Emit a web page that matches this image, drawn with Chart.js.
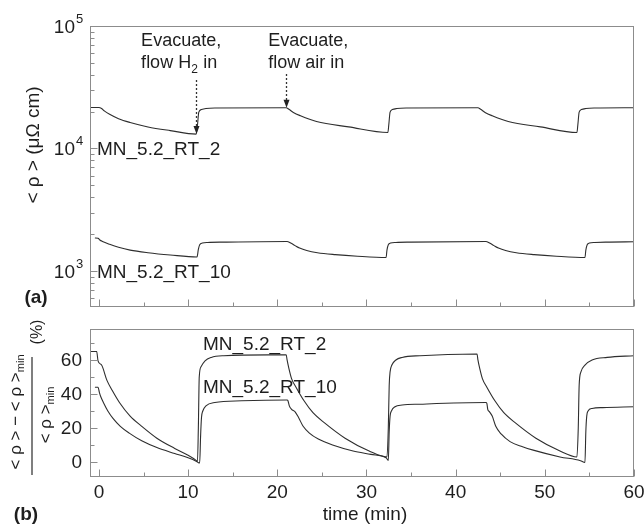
<!DOCTYPE html>
<html>
<head>
<meta charset="utf-8">
<script src="https://cdn.jsdelivr.net/npm/chart.js"></script>
<style>
  html, body { margin: 0; padding: 0; background: #fff; }
  #wrap { position: relative; width: 644px; height: 525px; }
  #wrap canvas { position: absolute; left: 0; top: 0; }
</style>
</head>
<body>
<div id="wrap">
  <canvas id="chartTop" width="644" height="525"></canvas>
  <canvas id="chartBot" width="644" height="525"></canvas>
</div>
<script>
// ─── dados ───
// (a) resistividade media, uS cm, escala log
var topTime2 = [-1.0, 0.0, 0.3, 0.6, 1.2, 2.2, 3.5, 5.5, 8.0, 10.9,
  11.05, 11.2, 11.5, 12.0, 13.0, 21.0,
  21.3, 21.8, 22.6, 24.4, 28.0, 32.4,
  32.5, 32.65, 32.9, 33.4, 34.5, 42.5,
  42.8, 43.3, 44.1, 45.9, 49.5, 53.6,
  53.7, 53.85, 54.1, 54.6, 55.6, 60.0];
var topRho2 = [21600, 21600, 21200, 20300, 19000, 17500, 16300, 15000, 14000, 13100,
  15500, 19800, 20800, 21200, 21400, 21500,
  20900, 19700, 18500, 16600, 15000, 13500,
  15500, 19800, 20800, 21200, 21400, 21500,
  20900, 19700, 18500, 16600, 15000, 13500,
  15500, 19800, 20800, 21200, 21400, 21500];

var topTime10 = [-0.45, -0.1, 0.1, 0.4, 1.2, 2.2, 3.5, 5.5, 8.0, 11.0,
  11.15, 11.3, 11.6, 12.2, 14.0, 21.1,
  21.5, 22.0, 22.5, 23.3, 24.5, 26.5, 29.0, 32.2,
  32.3, 32.45, 32.7, 33.3, 35.0, 43.4,
  43.8, 44.3, 44.8, 45.6, 46.8, 48.8, 51.3, 54.5,
  54.6, 54.75, 55.0, 55.6, 57.3, 60.0];
var topRho10 = [1860, 1850, 1790, 1740, 1650, 1560, 1480, 1410, 1350, 1300,
  1500, 1640, 1690, 1710, 1720, 1740,
  1690, 1610, 1540, 1470, 1410, 1360, 1320, 1290,
  1480, 1640, 1690, 1710, 1720, 1740,
  1690, 1610, 1540, 1470, 1410, 1360, 1320, 1290,
  1480, 1640, 1690, 1710, 1720, 1730];

// (b) variacao relativa, %
var relTime2 = [-1.0, -0.25, -0.1, 0.3, 0.9, 1.5, 2.3, 3.5, 4.8, 6.5,
  8.5, 10.0, 10.9, 11.05, 11.15, 11.25, 11.45, 11.9, 12.6, 14.0,
  19.0, 21.0, 21.1, 21.3, 21.6, 22.1, 23.0, 24.0, 25.3, 27.6,
  30.3, 32.3, 32.45, 32.55, 32.65, 32.85, 33.3, 34.0, 36.0, 42.4,
  42.5, 42.7, 43.0, 43.5, 44.4, 45.4, 46.7, 49.0, 51.7, 53.6,
  53.75, 53.85, 54.05, 54.5, 55.3, 57.0, 60.0];
var relVal2 = [65, 65, 59.5, 57, 48, 42, 35, 27, 21, 14,
  8, 4, 1, 0.3, 20, 50, 56, 59.5, 61.5, 62.5,
  63, 63, 60, 55, 49, 44, 36, 29, 23, 14,
  6.5, 3, 20, 45, 53, 57, 60, 61.5, 62.5, 63.5,
  60, 55, 49, 44, 36, 29, 23, 14, 6.5, 3,
  20, 45, 53, 57, 60, 61.5, 62.5];

var relTime10 = [-0.45, -0.1, 0.05, 0.2, 0.5, 1.0, 1.6, 2.4, 3.4, 4.8,
  6.5, 8.5, 10.0, 10.9, 11.2, 11.3, 11.4, 11.5, 11.65, 12.0,
  13.0, 16.0, 21.1, 21.2, 21.35, 21.6, 22.0, 22.4, 22.9, 23.6,
  24.6, 26.2, 28.5, 30.5, 32.2, 32.45, 32.55, 32.65, 32.8, 33.2,
  34.0, 36.0, 43.4, 43.5, 43.6, 43.8, 44.1, 44.5, 45.1, 46.1,
  47.5, 48.7, 51.7, 54.0, 54.5, 54.6, 54.7, 54.85, 55.3, 56.5,
  60.0];
var relVal10 = [44, 44, 41, 38.5, 35, 30, 25.5, 21, 17, 12.5,
  8.5, 5, 2.5, 0.5, -0.5, -0.5, 15, 26, 30, 33,
  35, 36, 36.5, 36, 33, 31, 29.5, 26, 21, 17,
  13.5, 10, 6.5, 4.5, 2.5, 1, 18, 27, 30, 32.5,
  33.5, 34, 35, 34.5, 31, 29.5, 27, 21, 16.5, 12,
  9, 7, 3, 0.8, -0.3, 18, 27, 30, 31.5, 32,
  32.5];

// ticks
var timeTicks = [0, 10, 20, 30, 40, 50, 60];
var timeMinor = [5, 15, 25, 35, 45, 55];
var logTicks = [1000, 10000, 100000];
var logTickExp = ['3', '4', '5'];
var logMinor = [600, 700, 800, 900, 2000, 3000, 4000, 5000, 6000, 7000, 8000, 9000,
  20000, 30000, 40000, 50000, 60000, 70000, 80000, 90000];
var relTicks = [0, 20, 40, 60];
var relMinor = [10, 30, 50, 70];

// eventos anotados (tempo, valor de rho no ponto)
var eventH2 = { t: 10.9, rho: 13100 };
var eventAir = { t: 21.0, rho: 21500 };

var FONT = '"Liberation Sans", Arial, Helvetica, sans-serif';
var INK = '#1e1e1e';
var AXIS = '#8c8c8c';

function pares(xs, ys) {
  return xs.map(function(x, i) { return { x: x, y: ys[i] }; });
}

function serie(xs, ys) {
  return {
    data: pares(xs, ys),
    borderColor: '#2e2e2e',
    borderWidth: 1.1,
    pointRadius: 0,
    fill: false,
    cubicInterpolationMode: 'monotone'
  };
}

function opcoes(pad, yScale) {
  return {
    responsive: false,
    animation: false,
    devicePixelRatio: 1,
    events: [],
    layout: { padding: pad },
    plugins: { legend: { display: false }, tooltip: { enabled: false } },
    scales: {
      x: { type: 'linear', min: -1.0, max: 60, display: false },
      y: yScale
    }
  };
}

function linha(ctx, x1, y1, x2, y2) {
  ctx.beginPath(); ctx.moveTo(x1, y1); ctx.lineTo(x2, y2); ctx.stroke();
}

function moldura(chart) {
  var ctx = chart.ctx, a = chart.chartArea;
  ctx.strokeStyle = AXIS;
  ctx.lineWidth = 1;
  ctx.strokeRect(Math.round(a.left) + 0.5, Math.round(a.top) + 0.5,
    Math.round(a.right - a.left) - 1, Math.round(a.bottom - a.top) - 1);
}

function ticksX(chart) {
  var ctx = chart.ctx, a = chart.chartArea, xs = chart.scales.x;
  var yb = Math.round(a.bottom) - 0.5;
  ctx.strokeStyle = AXIS; ctx.lineWidth = 1;
  timeTicks.forEach(function(v) {
    var x = Math.round(xs.getPixelForValue(v)) + 0.5;
    linha(ctx, x, yb, x, yb - 7);
  });
  timeMinor.forEach(function(v) {
    var x = Math.round(xs.getPixelForValue(v)) + 0.5;
    linha(ctx, x, yb, x, yb - 4);
  });
}

// texto girado -90 graus com subscrito opcional
function textoVertical(ctx, cx, cy, partes) {
  ctx.save();
  ctx.translate(cx, cy);
  ctx.rotate(-Math.PI / 2);
  ctx.textBaseline = 'middle';
  ctx.textAlign = 'left';
  var total = 0;
  partes.forEach(function(p) { ctx.font = p.size + 'px ' + FONT; p.w = ctx.measureText(p.txt).width; total += p.w; });
  var x = -total / 2;
  partes.forEach(function(p) {
    ctx.font = p.size + 'px ' + FONT;
    ctx.fillText(p.txt, x, p.dy || 0);
    x += p.w;
  });
  ctx.restore();
}

function seta(ctx, x, y0, y1) {
  ctx.save();
  ctx.strokeStyle = '#333';
  ctx.lineWidth = 1.3;
  ctx.setLineDash([2, 2]);
  linha(ctx, x, y0, x, y1 - 6);
  ctx.setLineDash([]);
  ctx.fillStyle = '#222';
  ctx.beginPath();
  ctx.moveTo(x, y1);
  ctx.lineTo(x - 3, y1 - 8);
  ctx.lineTo(x + 3, y1 - 8);
  ctx.closePath();
  ctx.fill();
  ctx.restore();
}

var decoTop = {
  id: 'decoTop',
  afterDraw: function(chart) {
    var ctx = chart.ctx, a = chart.chartArea, xs = chart.scales.x, ys = chart.scales.y;
    ctx.save();
    moldura(chart);
    ticksX(chart);
    var xl = Math.round(a.left) + 0.5;
    logTicks.forEach(function(v, i) {
      var y = Math.round(ys.getPixelForValue(v)) + 0.5;
      linha(ctx, xl, y, xl + 7, y);
      ctx.fillStyle = INK;
      ctx.textBaseline = 'middle';
      ctx.textAlign = 'right';
      ctx.font = '19px ' + FONT;
      ctx.fillText('10', 75, y + 1);
      ctx.textAlign = 'left';
      ctx.font = '13px ' + FONT;
      ctx.fillText(logTickExp[i], 76, y - 7);
    });
    logMinor.forEach(function(v) {
      var y = Math.round(ys.getPixelForValue(v)) + 0.5;
      linha(ctx, xl, y, xl + 4, y);
    });

    ctx.fillStyle = INK;
    ctx.textBaseline = 'middle';
    ctx.textAlign = 'left';
    ctx.font = '19px ' + FONT;
    ctx.fillText('MN_5.2_RT_2', 97, 150);
    ctx.fillText('MN_5.2_RT_10', 97, 273);

    // anotacoes com setas
    var xh = xs.getPixelForValue(eventH2.t);
    var xa = xs.getPixelForValue(eventAir.t);
    ctx.font = '18px ' + FONT;
    ctx.fillText('Evacuate,', xh - 55, 41);
    ctx.fillText('flow H', xh - 55, 63);
    var wH = ctx.measureText('flow H').width;
    ctx.font = '12px ' + FONT;
    ctx.fillText('2', xh - 55 + wH, 70);
    ctx.font = '18px ' + FONT;
    ctx.fillText(' in', xh - 55 + wH + ctx.measureText('2').width * 0.7, 63);
    ctx.fillText('Evacuate,', xa - 18, 41);
    ctx.fillText('flow air in', xa - 18, 63);
    seta(ctx, Math.round(xh) + 0.5, 80, ys.getPixelForValue(eventH2.rho));
    seta(ctx, Math.round(xa) + 0.5, 74, ys.getPixelForValue(eventAir.rho));

    textoVertical(ctx, 34, 145, [{ txt: '< \u03c1 > (\u03bc\u03a9 cm)', size: 19 }]);

    ctx.textAlign = 'center';
    ctx.font = 'bold 19px ' + FONT;
    ctx.fillText('(a)', 36, 298);
    ctx.restore();
  }
};

var decoBot = {
  id: 'decoBot',
  afterDraw: function(chart) {
    var ctx = chart.ctx, a = chart.chartArea, xs = chart.scales.x, ys = chart.scales.y;
    ctx.save();
    moldura(chart);
    ticksX(chart);
    var xl = Math.round(a.left) + 0.5;
    ctx.fillStyle = INK;
    ctx.font = '19px ' + FONT;
    relTicks.forEach(function(v) {
      var y = Math.round(ys.getPixelForValue(v)) + 0.5;
      linha(ctx, xl, y, xl + 7, y);
      ctx.textAlign = 'right';
      ctx.textBaseline = 'middle';
      ctx.fillText(String(v), 82, y);
    });
    relMinor.forEach(function(v) {
      var y = Math.round(ys.getPixelForValue(v)) + 0.5;
      linha(ctx, xl, y, xl + 4, y);
    });
    timeTicks.forEach(function(v) {
      ctx.textAlign = 'center';
      ctx.textBaseline = 'middle';
      ctx.fillText(String(v), xs.getPixelForValue(v), 493);
    });
    ctx.fillText('time (min)', 365, 515);

    ctx.textAlign = 'left';
    ctx.fillText('MN_5.2_RT_2', 203, 345);
    ctx.fillText('MN_5.2_RT_10', 203, 388);

    // titulo do eixo y em forma de fracao
    textoVertical(ctx, 16, 412, [
      { txt: '< \u03c1 > \u2212 < \u03c1 >', size: 17 },
      { txt: 'min', size: 11, dy: 5 }
    ]);
    ctx.strokeStyle = '#555';
    ctx.lineWidth = 1.5;
    linha(ctx, 32, 357, 32, 475);
    textoVertical(ctx, 46, 415, [
      { txt: '< \u03c1 >', size: 17 },
      { txt: 'min', size: 11, dy: 5 }
    ]);
    textoVertical(ctx, 38, 332, [{ txt: '(%)', size: 16 }]);

    ctx.textAlign = 'center';
    ctx.font = 'bold 19px ' + FONT;
    ctx.fillText('(b)', 26, 515);
    ctx.restore();
  }
};

new Chart(document.getElementById('chartTop'), {
  type: 'line',
  data: { datasets: [serie(topTime2, topRho2), serie(topTime10, topRho10)] },
  options: opcoes({ left: 90, right: 10, top: 26, bottom: 218 },
    { type: 'logarithmic', min: 508, max: 100000, display: false }),
  plugins: [decoTop]
});

new Chart(document.getElementById('chartBot'), {
  type: 'line',
  data: { datasets: [serie(relTime2, relVal2), serie(relTime10, relVal10)] },
  options: opcoes({ left: 90, right: 10, top: 329, bottom: 48 },
    { type: 'linear', min: -8.8, max: 78.2, display: false }),
  plugins: [decoBot]
});
</script>
</body>
</html>
